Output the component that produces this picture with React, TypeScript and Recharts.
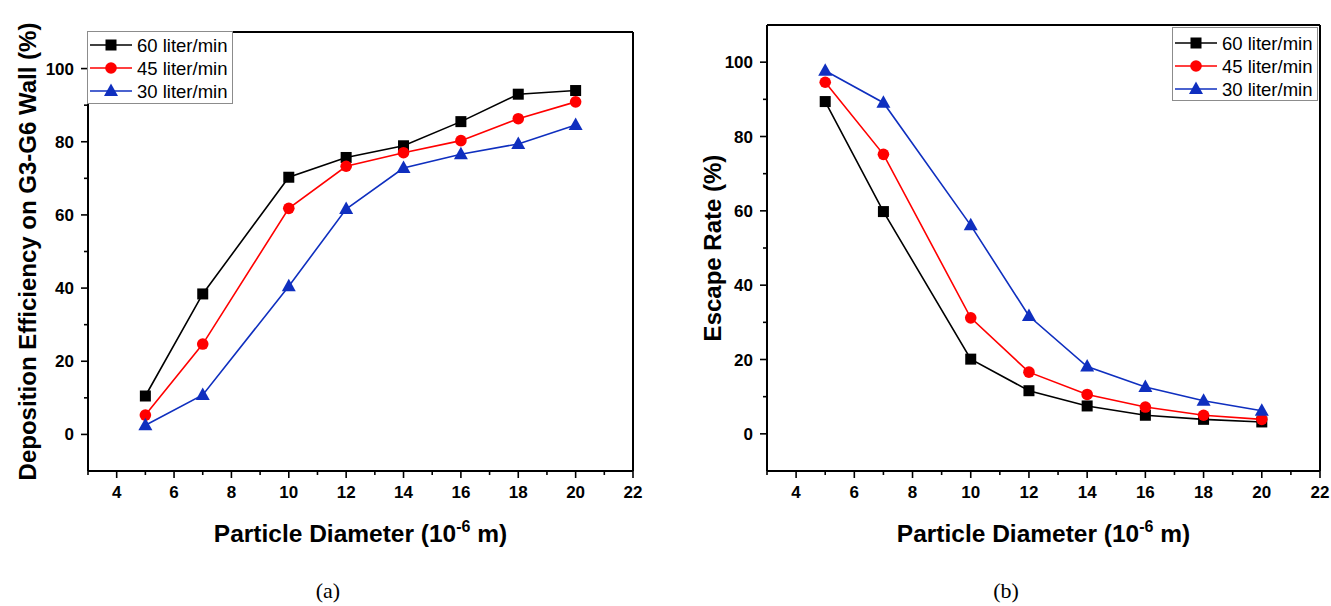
import React from "react";
import { Legend, Line, LineChart, ReferenceLine, XAxis, YAxis } from "recharts";

const diameters = [5, 7, 10, 12, 14, 16, 18, 20];
const deposition60 = [10.5, 38.4, 70.3, 75.7, 78.9, 85.5, 93.0, 94.0];
const deposition45 = [5.3, 24.7, 61.8, 73.3, 77.0, 80.3, 86.3, 90.9];
const deposition30 = [2.5, 10.8, 40.5, 61.6, 72.8, 76.6, 79.4, 84.6];
const escape60 = [89.4, 59.8, 20.1, 11.6, 7.5, 5.0, 3.9, 3.2];
const escape45 = [94.6, 75.2, 31.2, 16.6, 10.6, 7.2, 5.0, 3.9];
const escape30 = [97.7, 89.1, 56.1, 31.7, 18.1, 12.6, 8.9, 6.2];

const xTicks = [3, 4, 5, 6, 7, 8, 9, 10, 11, 12, 13, 14, 15, 16, 17, 18, 19, 20, 21, 22];
const yTicks = [0, 10, 20, 30, 40, 50, 60, 70, 80, 90, 100];
const flowLabels = ["60 liter/min", "45 liter/min", "30 liter/min"];
const flowColors = ["#000000", "#ff0000", "#0f2fbf"];
const flowShapes = ["square", "circle", "triangle"];

const SANS = "'Liberation Sans', Arial, sans-serif";

const toRows = (a: number[], b: number[], c: number[]) =>
  diameters.map((d, i) => ({ d, s60: a[i], s45: b[i], s30: c[i] }));

const depositionRows = toRows(deposition60, deposition45, deposition30);
const escapeRows = toRows(escape60, escape45, escape30);

function Marker({ shape, cx, cy, color }: { shape: string; cx: number; cy: number; color: string }) {
  if (shape === "square") return <rect x={cx - 5.5} y={cy - 5.5} width={11} height={11} fill={color} />;
  if (shape === "circle") return <circle cx={cx} cy={cy} r={5.8} fill={color} />;
  return <polygon points={`${cx},${cy - 7.5} ${cx - 7},${cy + 5} ${cx + 7},${cy + 5}`} fill={color} />;
}

function XTick(props: any) {
  const { x, y, payload } = props;
  const v = payload.value;
  const major = v % 2 === 0;
  return (
    <g>
      <line x1={x} x2={x} y1={y} y2={y + (major ? 7 : 4)} stroke="#000" strokeWidth={1.6} />
      {major && (
        <text x={x} y={y + 27} textAnchor="middle" fontFamily={SANS} fontWeight="bold" fontSize={17} fill="#000">
          {v}
        </text>
      )}
    </g>
  );
}

function YTick(props: any) {
  const { x, y, payload } = props;
  const v = payload.value;
  const major = v % 20 === 0;
  return (
    <g>
      <line x1={x - (major ? 7 : 4)} x2={x} y1={y} y2={y} stroke="#000" strokeWidth={1.6} />
      {major && (
        <text x={x - 14} y={y + 6} textAnchor="end" fontFamily={SANS} fontWeight="bold" fontSize={17} fill="#000">
          {v}
        </text>
      )}
    </g>
  );
}

function XTitle(props: any) {
  const { viewBox } = props;
  const cx = viewBox.x + viewBox.width / 2;
  return (
    <text x={cx} y={viewBox.y + 71} textAnchor="middle" fontFamily={SANS} fontWeight="bold" fontSize={24.5} fill="#000">
      <tspan>Particle Diameter (10</tspan>
      <tspan dy={-10} fontSize={16}>-6</tspan>
      <tspan dy={10}> m)</tspan>
    </text>
  );
}

function YTitle(props: any) {
  const { viewBox, text, cx } = props;
  const cy = viewBox.y + viewBox.height / 2;
  return (
    <text
      x={cx}
      y={cy}
      transform={`rotate(-90 ${cx} ${cy})`}
      textAnchor="middle"
      dominantBaseline="central"
      fontFamily={SANS}
      fontWeight="bold"
      fontSize={24}
      fill="#000"
    >
      {text}
    </text>
  );
}

function FlowLegend({ width, height, top }: { width: number; height: number; top: number }) {
  return (
    <div style={{ width, height, border: "1px solid #8c8c8c", background: "#fff", boxSizing: "border-box" }}>
      <svg width={width - 2} height={height - 2}>
        {flowLabels.map((label, i) => {
          const cy = top + i * 23;
          return (
            <g key={label}>
              <line x1={2} x2={44} y1={cy} y2={cy} stroke={flowColors[i]} strokeWidth={1.6} />
              <Marker shape={flowShapes[i]} cx={23} cy={cy} color={flowColors[i]} />
              <text x={49} y={cy + 6.5} fontFamily={SANS} fontSize={18.5} fill="#000">
                {label}
              </text>
            </g>
          );
        })}
      </svg>
    </div>
  );
}

function Panel({
  rows,
  width,
  height,
  margin,
  yWidth,
  yTitle,
  yTitleX,
  legendPos
}: {
  rows: any[];
  width: number;
  height: number;
  margin: { top: number; right: number; bottom: number; left: number };
  yWidth: number;
  yTitle: string;
  yTitleX: number;
  legendPos: { left: number; top: number; width: number; height: number; row: number };
}) {
  const keys = ["s60", "s45", "s30"];
  return (
    <LineChart width={width} height={height} data={rows} margin={margin}>
      <XAxis
        dataKey="d"
        type="number"
        domain={[3, 22]}
        ticks={xTicks}
        interval={0}
        height={70}
        tickSize={0}
        tickMargin={0}
        tickLine={false}
        tick={<XTick />}
        axisLine={{ stroke: "#000", strokeWidth: 2 }}
        label={<XTitle />}
      />
      <YAxis
        type="number"
        domain={[-10, 110]}
        ticks={yTicks}
        interval={0}
        width={yWidth}
        tickSize={0}
        tickMargin={0}
        tickLine={false}
        tick={<YTick />}
        axisLine={{ stroke: "#000", strokeWidth: 2 }}
        label={<YTitle text={yTitle} cx={yTitleX} />}
      />
      <ReferenceLine y={110} stroke="#000" strokeWidth={2} />
      <ReferenceLine x={22} stroke="#000" strokeWidth={2} />
      {keys.map((k, i) => (
        <Line
          key={k}
          type="linear"
          dataKey={k}
          name={flowLabels[i]}
          stroke={flowColors[i]}
          strokeWidth={1.6}
          isAnimationActive={false}
          activeDot={false}
          dot={(p: any) => (
            <Marker key={`${k}-${p.index}`} shape={flowShapes[i]} cx={p.cx} cy={p.cy} color={flowColors[i]} />
          )}
        />
      ))}
      <Legend
        layout="horizontal"
        align="center"
        verticalAlign="middle"
        wrapperStyle={{ left: legendPos.left, top: legendPos.top, width: legendPos.width, height: legendPos.height }}
        content={() => <FlowLegend width={legendPos.width} height={legendPos.height} top={legendPos.row} />}
      />
    </LineChart>
  );
}

export default function App() {
  return (
    <div style={{ position: "absolute", left: 0, top: 0, width: 1331, height: 606, background: "#fff" }}>
      <div style={{ position: "absolute", left: 0, top: 0 }}>
        <Panel
          rows={depositionRows}
          width={680}
          height={560}
          margin={{ top: 32, right: 47, bottom: 19, left: 0 }}
          yWidth={88}
          yTitle="Deposition Efficiency on G3-G6 Wall (%)"
          yTitleX={27}
          legendPos={{ left: 87, top: 31, width: 146, height: 73, row: 13 }}
        />
      </div>
      <div style={{ position: "absolute", left: 680, top: 0 }}>
        <Panel
          rows={escapeRows}
          width={651}
          height={560}
          margin={{ top: 25, right: 11, bottom: 19, left: 0 }}
          yWidth={87}
          yTitle="Escape Rate (%)"
          yTitleX={32}
          legendPos={{ left: 492, top: 27, width: 146, height: 74, row: 15 }}
        />
      </div>
      <div
        style={{
          position: "absolute",
          left: 278,
          top: 578,
          width: 100,
          textAlign: "center",
          fontFamily: "'Liberation Serif', 'Times New Roman', serif",
          fontSize: 22
        }}
      >
        (a)
      </div>
      <div
        style={{
          position: "absolute",
          left: 956,
          top: 578,
          width: 100,
          textAlign: "center",
          fontFamily: "'Liberation Serif', 'Times New Roman', serif",
          fontSize: 22
        }}
      >
        (b)
      </div>
    </div>
  );
}
